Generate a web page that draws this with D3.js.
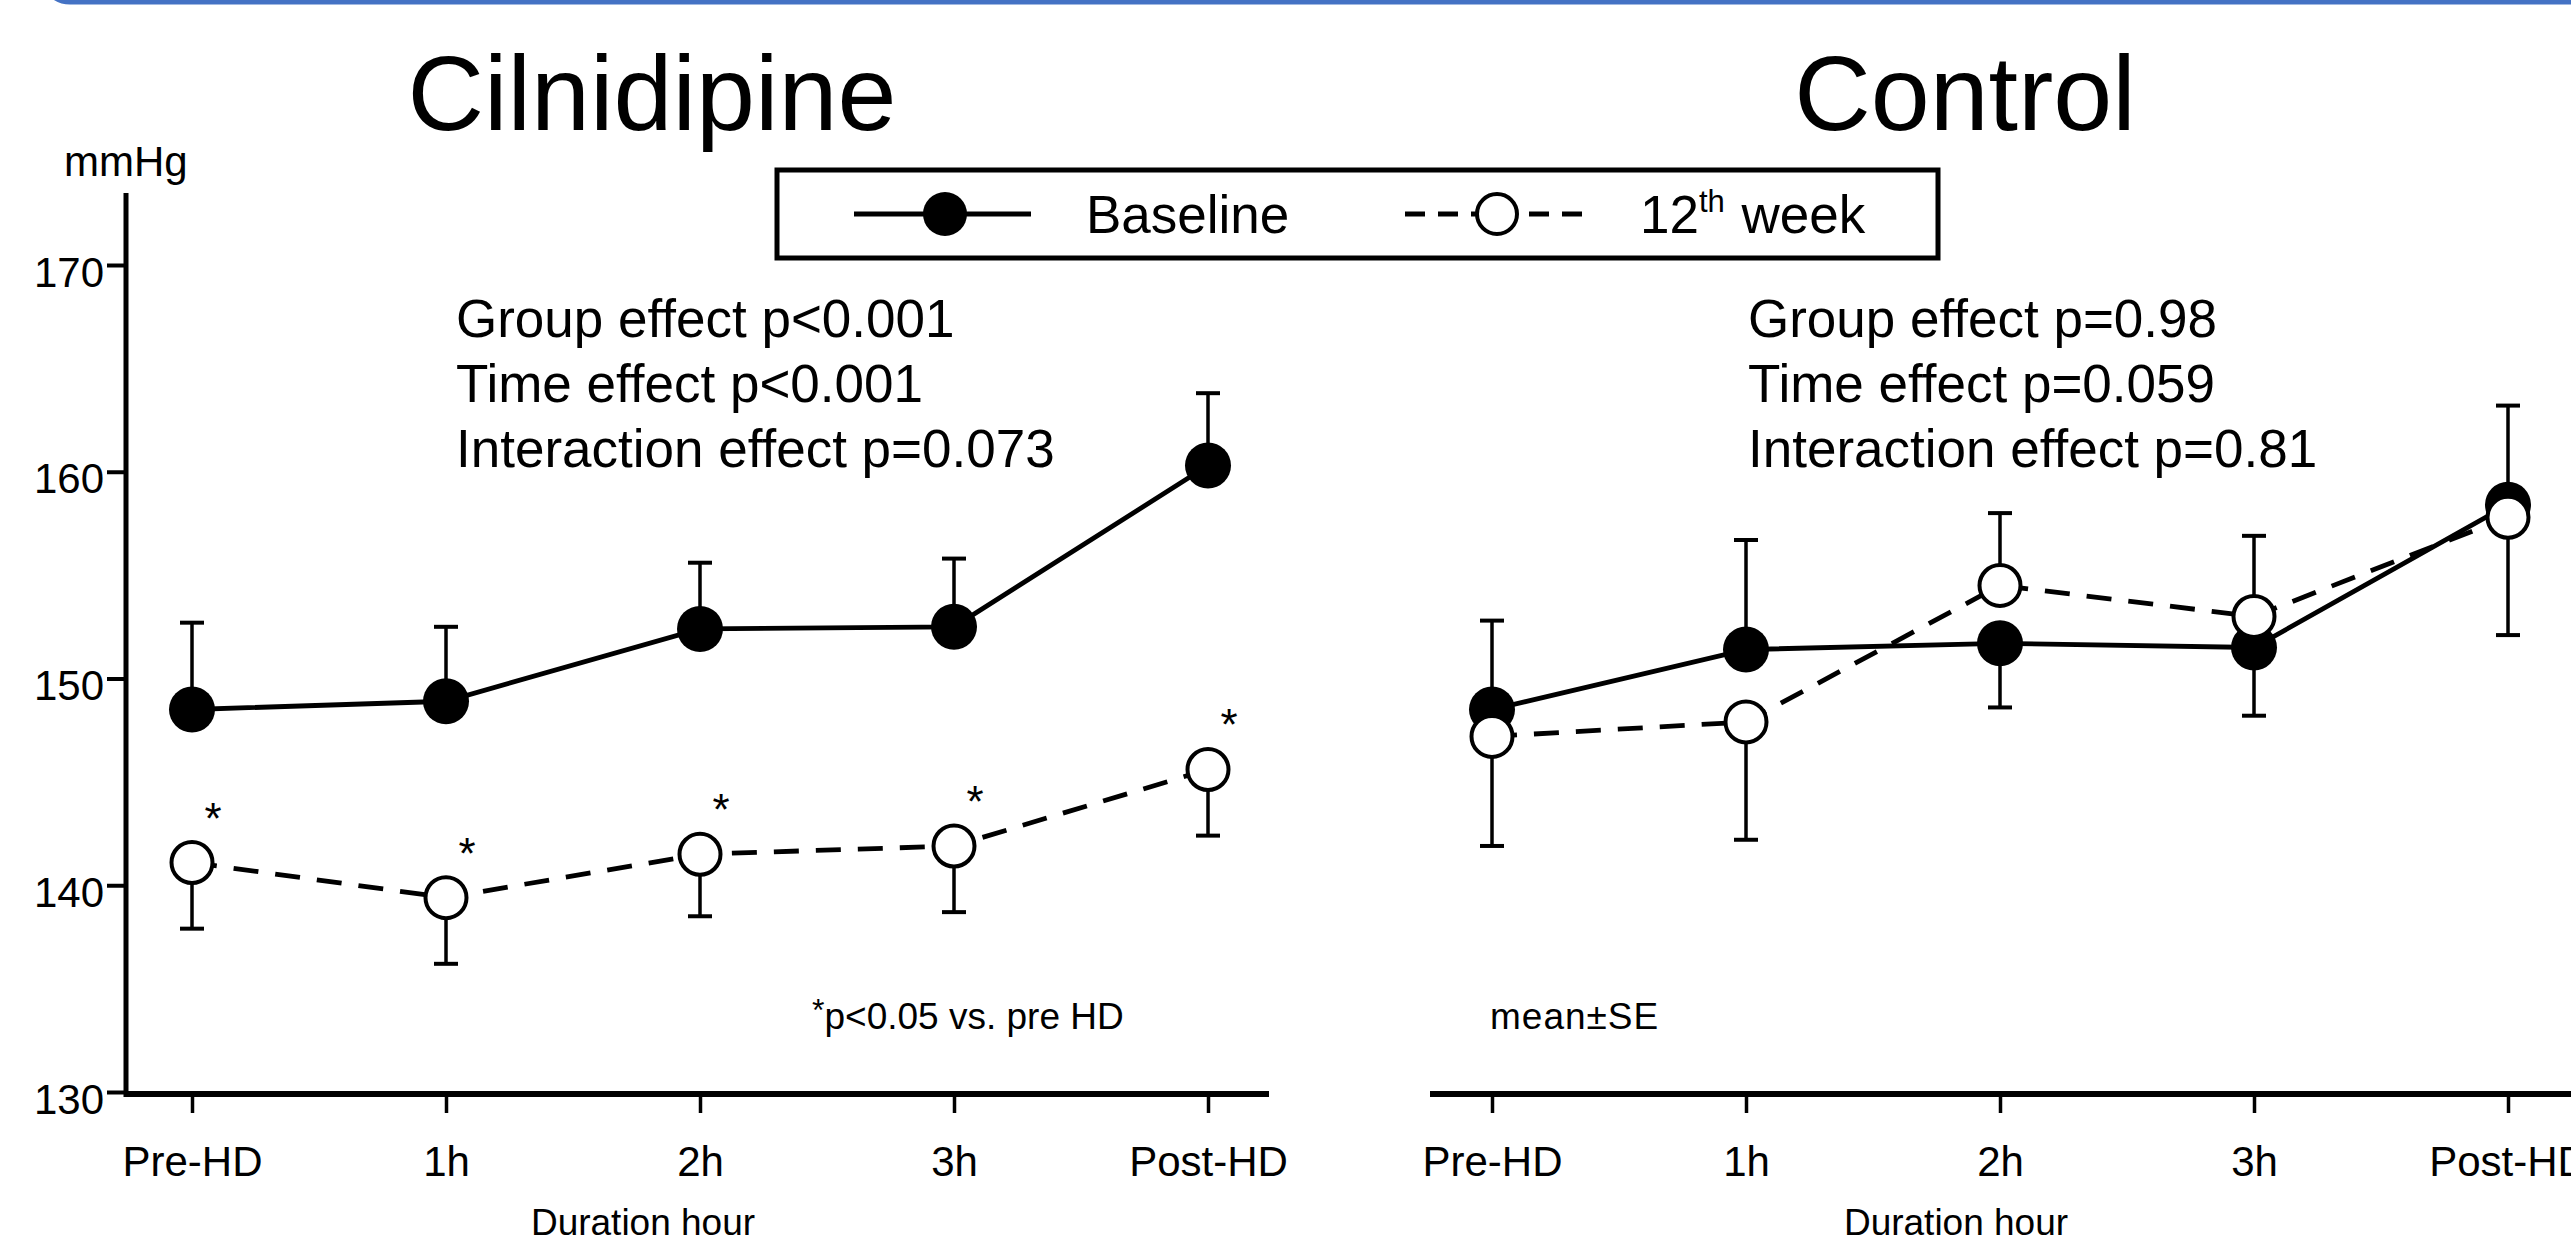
<!DOCTYPE html>
<html>
<head>
<meta charset="utf-8">
<script src="https://cdn.jsdelivr.net/npm/d3@7"></script>
<style>
  html, body { margin: 0; padding: 0; background: #fff; }
  svg { display: block; }
  text { font-family: "Liberation Sans", Arial, sans-serif; fill: #000; }
</style>
</head>
<body>
<div id="chart"></div>
<script>
// Categories on the x axis
const categories = ["Pre-HD", "1h", "2h", "3h", "Post-HD"];

// Cilnidipine group (mmHg, mean and SE)
const cilBaseline = [148.5, 148.9, 152.4, 152.5, 160.3];
const cilBaselineSE = [4.2, 3.6, 3.2, 3.3, 3.5];
const cilWeek12 = [141.1, 139.4, 141.5, 141.9, 145.6];
const cilWeek12SE = [3.2, 3.2, 3.0, 3.2, 3.2];
const cilSignificant = [true, true, true, true, true];

// Control group
const ctlBaseline = [148.5, 151.4, 151.7, 151.5, 158.4];
const ctlBaselineSE = [4.3, 5.3, 3.1, 3.3, 4.8];
const ctlWeek12 = [147.2, 147.9, 154.5, 153.0, 157.8];
const ctlWeek12SE = [5.3, 5.7, 3.5, 3.9, 5.7];
const ctlSignificant = [false, false, false, false, false];

// Axis ticks
const yTicks = [130, 140, 150, 160, 170];

// Texts
const cilStats = ["Group effect p<0.001", "Time effect p<0.001", "Interaction effect p=0.073"];
const ctlStats = ["Group effect p=0.98", "Time effect p=0.059", "Interaction effect p=0.81"];

const width = 2571;
const height = 1245;
const font = "'Liberation Sans', Arial, sans-serif";
const dash = "25,17";

const svg = d3.select("#chart")
    .append("svg")
    .attr("width", width)
    .attr("height", height);

// Blue frame edge of the slide at the very top
svg.append("rect")
    .attr("x", 42)
    .attr("y", -200)
    .attr("width", 2600)
    .attr("height", 202)
    .attr("rx", 28)
    .attr("fill", "none")
    .attr("stroke", "#4472C4")
    .attr("stroke-width", 5);

// Shared scales
const xScale = d3.scalePoint()
    .domain(categories)
    .range([192, 1208]);

const yScale = d3.scaleLinear()
    .domain([130, 170])
    .range([1092, 265]);

const axisY = 1094;

const drawPanel = (offset, title, titleX, base, baseSE, week, weekSE, signif, stats, statsX, note, noteX, axisStart, axisEnd, showY) => {
    const g = svg.append("g")
        .attr("transform", `translate(${offset},0)`);

    // Panel title
    g.append("text")
        .attr("x", titleX)
        .attr("y", 130)
        .attr("text-anchor", "middle")
        .style("font-size", "106px")
        .text(title);

    /*************/
    /* Y axis    */
    /*************/
    if (showY) {
        const yAxisGroup = g.append("g")
            .attr("transform", "translate(126,0)")
            .call(d3.axisLeft(yScale).tickValues(yTicks).tickSize(19).tickPadding(3));
        yAxisGroup.select(".domain").remove();
        yAxisGroup.selectAll(".tick line")
            .attr("stroke", "#000")
            .attr("stroke-width", 4);
        yAxisGroup.selectAll(".tick text")
            .attr("dy", "0.5em")
            .style("font-family", font)
            .style("font-size", "42px");
        yAxisGroup.append("line")
            .attr("x1", 0).attr("x2", 0)
            .attr("y1", 193).attr("y2", axisY + 3)
            .attr("stroke", "#000")
            .attr("stroke-width", 5);

        g.append("text")
            .attr("x", 64)
            .attr("y", 176)
            .style("font-size", "42px")
            .text("mmHg");
    }

    /*************/
    /* X axis    */
    /*************/
    const xAxisGroup = g.append("g")
        .attr("transform", `translate(0,${axisY})`)
        .call(d3.axisBottom(xScale).tickSize(19).tickPadding(33));
    xAxisGroup.select(".domain").remove();
    xAxisGroup.selectAll(".tick line")
        .attr("stroke", "#000")
        .attr("stroke-width", 3.5);
    xAxisGroup.selectAll(".tick text")
        .style("font-family", font)
        .style("font-size", "42px");
    xAxisGroup.append("line")
        .attr("x1", axisStart).attr("x2", axisEnd)
        .attr("y1", 0).attr("y2", 0)
        .attr("stroke", "#000")
        .attr("stroke-width", 6);

    g.append("text")
        .attr("x", titleX - 9)
        .attr("y", 1235)
        .attr("text-anchor", "middle")
        .style("font-size", "37px")
        .text("Duration hour");

    // Statistics
    g.append("g")
        .selectAll("text")
        .data(stats)
        .join("text")
            .attr("x", statsX)
            .attr("y", (d, i) => 337 + i * 65)
            .style("font-size", "53px")
            .text(d => d);

    /*******************/
    /* Series          */
    /*******************/
    const series = [
        { values: base, se: baseSE, other: week, dash: null, fill: "#000" },
        { values: week, se: weekSE, other: base, dash: dash, fill: "#fff" }
    ];

    const line = d3.line()
        .x((d, i) => xScale(categories[i]))
        .y(d => yScale(d));

    series.forEach(s => {
        const sg = g.append("g");

        sg.append("path")
            .datum(s.values)
            .attr("d", line)
            .attr("fill", "none")
            .attr("stroke", "#000")
            .attr("stroke-width", 4.8)
            .attr("stroke-dasharray", s.dash);

        // Error bars: the higher of the two series points up, the lower one down
        const bars = s.values.map((v, i) => ({
            x: xScale(categories[i]),
            v: v,
            end: v >= s.other[i] ? v + s.se[i] : v - s.se[i]
        }));

        sg.selectAll(".stem")
            .data(bars)
            .join("line")
                .attr("class", "stem")
                .attr("x1", d => d.x).attr("x2", d => d.x)
                .attr("y1", d => yScale(d.v))
                .attr("y2", d => yScale(d.end))
                .attr("stroke", "#000")
                .attr("stroke-width", 3.5);

        sg.selectAll(".cap")
            .data(bars)
            .join("line")
                .attr("class", "cap")
                .attr("x1", d => d.x - 12).attr("x2", d => d.x + 12)
                .attr("y1", d => yScale(d.end))
                .attr("y2", d => yScale(d.end))
                .attr("stroke", "#000")
                .attr("stroke-width", 4);

        sg.selectAll("circle")
            .data(s.values)
            .join("circle")
                .attr("cx", (d, i) => xScale(categories[i]))
                .attr("cy", d => yScale(d))
                .attr("r", s.fill === "#000" ? 23 : 20.5)
                .attr("fill", s.fill)
                .attr("stroke", "#000")
                .attr("stroke-width", s.fill === "#000" ? 0 : 4);
    });

    // Significance marks
    g.append("g")
        .selectAll("text")
        .data(week.map((v, i) => ({ v: v, i: i })).filter(d => signif[d.i]))
        .join("text")
            .attr("x", d => xScale(categories[d.i]) + 21)
            .attr("y", d => yScale(d.v) - 29)
            .attr("text-anchor", "middle")
            .style("font-size", "44px")
            .text("*");

    // Footnote
    const fn = g.append("text")
        .attr("x", noteX)
        .attr("y", 1029)
        .style("font-size", "37px");
    if (note === "sig") {
        fn.append("tspan").attr("dy", -8).style("font-size", "32px").text("*");
        fn.append("tspan").attr("dy", 8).text("p<0.05 vs. pre HD");
    } else {
        fn.style("letter-spacing", "1px").text("mean\u00B1SE");
    }
};

drawPanel(0, "Cilnidipine", 652, cilBaseline, cilBaselineSE, cilWeek12, cilWeek12SE, cilSignificant,
    cilStats, 456, "sig", 812, 124, 1269, true);
drawPanel(1300, "Control", 665, ctlBaseline, ctlBaselineSE, ctlWeek12, ctlWeek12SE, ctlSignificant,
    ctlStats, 448, "se", 190, 130, 1280, false);

/*************/
/* Legend    */
/*************/
const legend = svg.append("g");

legend.append("rect")
    .attr("x", 777)
    .attr("y", 170)
    .attr("width", 1161)
    .attr("height", 88)
    .attr("fill", "#fff")
    .attr("stroke", "#000")
    .attr("stroke-width", 5);

legend.append("line")
    .attr("x1", 854).attr("x2", 1031)
    .attr("y1", 214).attr("y2", 214)
    .attr("stroke", "#000")
    .attr("stroke-width", 4.8);
legend.append("circle")
    .attr("cx", 945).attr("cy", 214).attr("r", 22)
    .attr("fill", "#000");
legend.append("text")
    .attr("x", 1086).attr("y", 233)
    .style("font-size", "53px")
    .text("Baseline");

// Dashed legend line drawn from each outer end towards the marker
[[1405, 1477], [1582, 1517]].forEach(([a, b]) => {
    legend.append("line")
        .attr("x1", a).attr("x2", b)
        .attr("y1", 214).attr("y2", 214)
        .attr("stroke", "#000")
        .attr("stroke-width", 4.8)
        .attr("stroke-dasharray", "20,13");
});
legend.append("circle")
    .attr("cx", 1497).attr("cy", 214).attr("r", 20)
    .attr("fill", "#fff")
    .attr("stroke", "#000")
    .attr("stroke-width", 4);

const wk = legend.append("text")
    .attr("x", 1640).attr("y", 233)
    .style("font-size", "53px");
wk.append("tspan").text("12");
wk.append("tspan").attr("dy", -21).style("font-size", "31px").text("th");
wk.append("tspan").attr("dy", 21).attr("dx", 2).text(" week");
</script>
</body>
</html>
